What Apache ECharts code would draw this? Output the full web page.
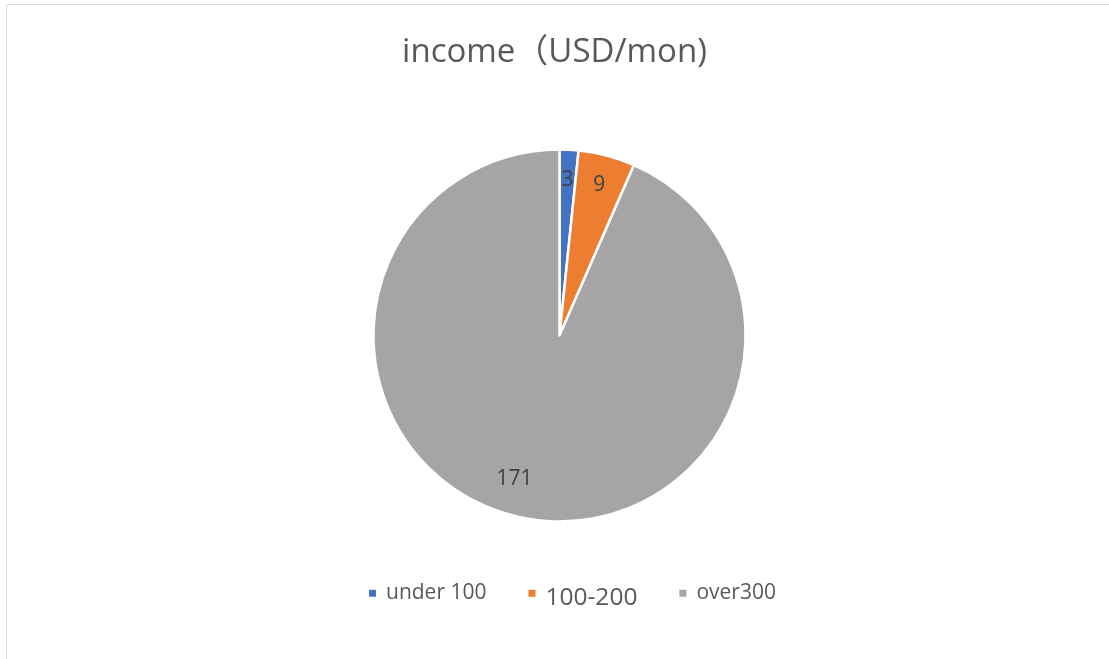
<!DOCTYPE html>
<html>
<head>
<meta charset="utf-8">
<script src="https://cdn.jsdelivr.net/npm/echarts@6/dist/echarts.min.js"></script>
<style>
html,body{margin:0;padding:0;background:#fff;}
#c{width:1109px;height:659px;}
</style>
</head>
<body>
<div id="c"></div>
<script>
const titleText = 'income（USD/mon)';
const categories = ['under 100', '100-200', 'over300'];
const values = [3, 9, 171];
const colors = ['#4472C4', '#ED7D31', '#A5A5A5'];

const chart = echarts.init(document.getElementById('c'), null, {renderer: 'canvas'});
const FONT = '"Open Sans", "Noto Sans CJK SC", sans-serif';

const pieData = categories.map((n, i) => ({name: n, value: values[i], itemStyle: {color: colors[i]}}));
const labelData = categories.map((n, i) => ({name: n, value: values[i]}));

chart.setOption({
  animation: false,
  backgroundColor: '#fff',
  graphic: [{
    type: 'rect', silent: true,
    shape: {x: 6.5, y: 4.5, width: 1200, height: 800},
    style: {fill: 'none', stroke: '#D9D9D9', lineWidth: 1}
  }],
  title: {
    text: titleText,
    left: 'center',
    top: 31,
    textStyle: {fontFamily: FONT, fontSize: 33, fontWeight: 'normal', color: '#595959'}
  },
  legend: {
    bottom: 44,
    left: 362,
    itemWidth: 9,
    itemHeight: 9,
    itemGap: 40,
    icon: 'rect',
    data: categories,
    formatter: n => n === '100-200' ? '{b|' + n + '}' : '{n|' + n + '}',
    textStyle: {
      fontFamily: FONT,
      color: '#595959',
      rich: {
        n: {fontFamily: FONT, fontSize: 21, color: '#595959', padding: [0, 0, 0, 4]},
        b: {fontFamily: FONT, fontSize: 24.5, color: '#595959', padding: [9, 0, 0, 4]}
      }
    }
  },
  series: [{
    type: 'pie',
    center: [559.5, 335.5],
    radius: [0, 186],
    startAngle: 90,
    clockwise: true,
    data: pieData,
    label: {show: false},
    labelLine: {show: false},
    itemStyle: {borderColor: '#fff', borderWidth: 2.5},
    emphasis: {disabled: true}
  }, {
    type: 'pie',
    center: [559.5, 335.5],
    radius: [120, 186],
    startAngle: 90,
    clockwise: true,
    silent: true,
    data: labelData,
    itemStyle: {color: 'rgba(0,0,0,0)'},
    label: {
      show: true, position: 'inside', formatter: '{c}',
      fontFamily: FONT, fontSize: 21, color: '#404040'
    },
    labelLayout: p => p.dataIndex === 2 ? {dx: -13, dy: -9} : {},
    labelLine: {show: false},
    emphasis: {disabled: true}
  }]
});
</script>
</body>
</html>
